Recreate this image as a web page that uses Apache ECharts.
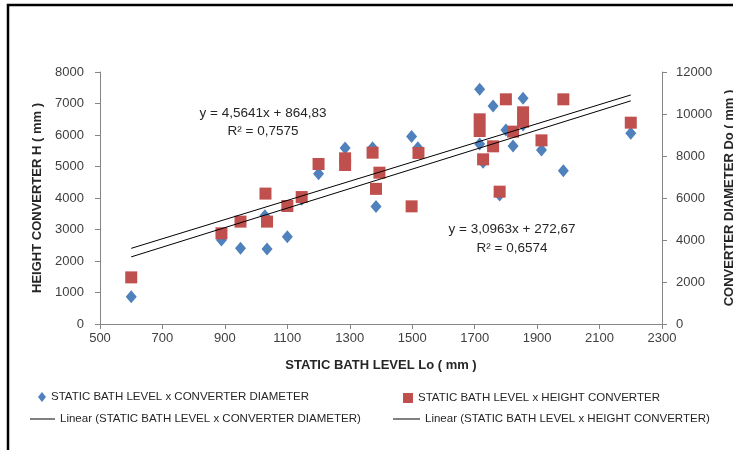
<!DOCTYPE html>
<html>
<head>
<meta charset="utf-8">
<script src="https://cdn.jsdelivr.net/npm/echarts@6/dist/echarts.min.js"></script>
<style>
html,body{margin:0;padding:0;background:#fff;}
#chart{width:733px;height:450px;}
</style>
</head>
<body>
<div id="chart"></div>
<script>
// Static bath level x converter diameter (right axis)
const diameterX = [600, 889, 950, 1028, 1035, 1100, 1146, 1200, 1285, 1373, 1384, 1498, 1518, 1716, 1716, 1727, 1759, 1780, 1800, 1823, 1855, 1855, 1914, 1984, 2200];
const diameterY = [1300, 4000, 3605, 5150, 3571, 4157, 5937, 7150, 8380, 8390, 5600, 8930, 8390, 11176, 8571, 7700, 10381, 6143, 9238, 8476, 10746, 9476, 8286, 7302, 9079];
// Static bath level x height converter (left axis)
const heightX = [600, 889, 950, 1030, 1035, 1100, 1146, 1200, 1285, 1285, 1373, 1384, 1395, 1498, 1520, 1716, 1716, 1727, 1759, 1780, 1800, 1823, 1855, 1855, 1914, 1984, 2200];
const heightY = [1480, 2880, 3250, 4140, 3250, 3746, 4030, 5079, 5260, 5048, 5439, 4290, 4804, 3735, 5430, 6498, 6127, 5228, 5640, 4201, 7133, 6106, 6720, 6422, 5830, 7133, 6391];
// Trend lines (end points from the displayed equations)
const diameterTrendX = [600, 2200];
const diameterTrendY = [3603.3, 10905.9];
const heightTrendX = [600, 2200];
const heightTrendY = [2130.5, 7084.5];
// Axis ticks
const xTicks = {min: 500, max: 2300, interval: 200};
const leftTicks = {min: 0, max: 8000, interval: 1000};
const rightTicks = {min: 0, max: 12000, interval: 2000};

const names = {
  dia: 'STATIC BATH LEVEL x CONVERTER DIAMETER',
  hei: 'STATIC BATH LEVEL x HEIGHT CONVERTER',
  diaLin: 'Linear (STATIC BATH LEVEL x CONVERTER DIAMETER)',
  heiLin: 'Linear (STATIC BATH LEVEL x HEIGHT CONVERTER)'
};
const eq1 = ['y = 4,5641x + 864,83', 'R² = 0,7575'];
const eq2 = ['y = 3,0963x + 272,67', 'R² = 0,6574'];

const zip = (xs, ys) => xs.map((x, i) => [x, ys[i]]);
const FONT = "'Liberation Sans', sans-serif";
const axisLineStyle = {color: '#868686', width: 1};
const plain = v => String(v);
const labelStyle = {color: '#404040', fontSize: 13, fontFamily: FONT, formatter: plain};
const nameStyle = {color: '#262626', fontSize: 13, fontWeight: 'bold', fontFamily: FONT};
const legendText = {color: '#262626', fontSize: 11.5, fontFamily: FONT};
const eqFont = "13.5px 'Liberation Sans', sans-serif";

const chart = echarts.init(document.getElementById('chart'), null, {renderer: 'canvas'});
chart.setOption({
  backgroundColor: '#fff',
  animation: false,
  grid: {left: 100, right: 71, top: 72, bottom: 126, containLabel: false, outerBoundsMode: 'none'},
  xAxis: {
    type: 'value', min: xTicks.min, max: xTicks.max, interval: xTicks.interval,
    name: 'STATIC BATH LEVEL Lo ( mm )', nameLocation: 'middle', nameGap: 35,
    nameTextStyle: nameStyle,
    axisLine: {lineStyle: axisLineStyle},
    axisTick: {show: true, length: 5, lineStyle: axisLineStyle},
    axisLabel: Object.assign({margin: 8}, labelStyle),
    splitLine: {show: false}
  },
  yAxis: [{
    type: 'value', position: 'left', min: leftTicks.min, max: leftTicks.max, interval: leftTicks.interval,
    name: 'HEIGHT CONVERTER H ( mm )', nameLocation: 'middle', nameGap: 53, nameRotate: 90,
    nameTextStyle: nameStyle,
    axisLine: {show: true, lineStyle: axisLineStyle},
    axisTick: {show: true, length: 5, lineStyle: axisLineStyle},
    axisLabel: Object.assign({margin: 16}, labelStyle),
    splitLine: {show: false}
  }, {
    type: 'value', position: 'right', min: rightTicks.min, max: rightTicks.max, interval: rightTicks.interval,
    name: 'CONVERTER DIAMETER Do ( mm )', nameLocation: 'middle', nameGap: 60, nameRotate: 90,
    nameTextStyle: nameStyle,
    axisLine: {show: true, lineStyle: axisLineStyle},
    axisTick: {show: true, length: 5, lineStyle: axisLineStyle},
    axisLabel: Object.assign({margin: 14}, labelStyle),
    splitLine: {show: false}
  }],
  legend: [
    {data: [{name: names.dia, icon: 'diamond'}], left: 38, top: 391, itemWidth: 8, itemHeight: 10, itemGap: 0, textStyle: legendText, padding: 0, selectedMode: false},
    {data: [{name: names.hei, icon: 'rect'}], left: 403, top: 392, itemWidth: 10, itemHeight: 10, textStyle: legendText, padding: 0, selectedMode: false},
    {data: [{name: names.diaLin, icon: 'rect'}], left: 30, top: 413, itemWidth: 25, itemHeight: 1, itemGap: 0, textStyle: legendText, padding: 0, selectedMode: false},
    {data: [{name: names.heiLin, icon: 'rect'}], left: 393, top: 413, itemWidth: 27, itemHeight: 1, textStyle: legendText, padding: 0, selectedMode: false}
  ],
  series: [
    {
      name: names.dia, type: 'scatter', yAxisIndex: 1,
      symbol: 'diamond', symbolSize: [11, 13],
      itemStyle: {color: '#4F81BD', opacity: 1},
      data: zip(diameterX, diameterY), z: 3
    },
    {
      name: names.hei, type: 'scatter', yAxisIndex: 0,
      symbol: 'rect', symbolSize: 12,
      itemStyle: {color: '#C0504D', opacity: 1},
      data: zip(heightX, heightY), z: 4
    },
    {
      name: names.diaLin, type: 'line', yAxisIndex: 1,
      symbol: 'none', itemStyle: {color: '#000'},
      lineStyle: {color: '#000', width: 1},
      data: zip(diameterTrendX, diameterTrendY), z: 5
    },
    {
      name: names.heiLin, type: 'line', yAxisIndex: 0,
      symbol: 'none', itemStyle: {color: '#000'},
      lineStyle: {color: '#000', width: 1},
      data: zip(heightTrendX, heightTrendY), z: 5
    }
  ],
  graphic: [
    {type: 'rect', shape: {x: 8, y: 5, width: 800, height: 500}, style: {fill: 'none', stroke: '#000', lineWidth: 2.5}, silent: true, z: 100},
    {type: 'text', x: 263, y: 113, style: {text: eq1[0], fill: '#262626', font: eqFont, textAlign: 'center', textVerticalAlign: 'middle'}, z: 50},
    {type: 'text', x: 263, y: 131, style: {text: eq1[1], fill: '#262626', font: eqFont, textAlign: 'center', textVerticalAlign: 'middle'}, z: 50},
    {type: 'text', x: 512, y: 229, style: {text: eq2[0], fill: '#262626', font: eqFont, textAlign: 'center', textVerticalAlign: 'middle'}, z: 50},
    {type: 'text', x: 512, y: 248, style: {text: eq2[1], fill: '#262626', font: eqFont, textAlign: 'center', textVerticalAlign: 'middle'}, z: 50}
  ]
});
</script>
</body>
</html>
